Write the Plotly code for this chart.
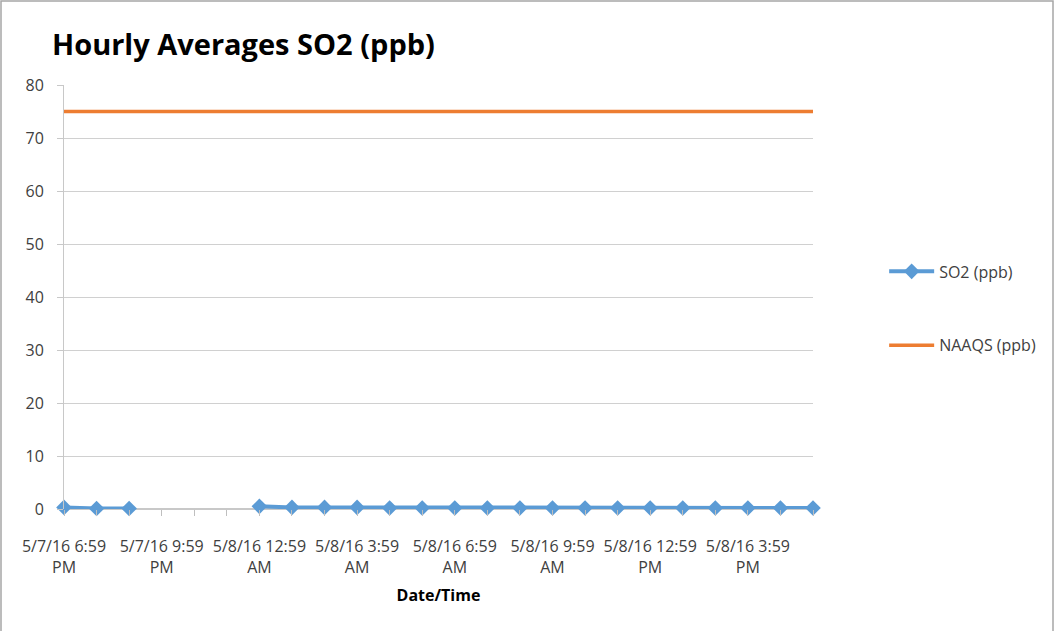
import plotly.graph_objects as go

categories = [
    "5/7/16 6:59 PM", "5/7/16 7:59 PM", "5/7/16 8:59 PM", "5/7/16 9:59 PM",
    "5/7/16 10:59 PM", "5/7/16 11:59 PM", "5/8/16 12:59 AM", "5/8/16 1:59 AM",
    "5/8/16 2:59 AM", "5/8/16 3:59 AM", "5/8/16 4:59 AM", "5/8/16 5:59 AM",
    "5/8/16 6:59 AM", "5/8/16 7:59 AM", "5/8/16 8:59 AM", "5/8/16 9:59 AM",
    "5/8/16 10:59 AM", "5/8/16 11:59 AM", "5/8/16 12:59 PM", "5/8/16 1:59 PM",
    "5/8/16 2:59 PM", "5/8/16 3:59 PM", "5/8/16 4:59 PM", "5/8/16 5:59 PM",
]
so2_ppb = [0.3, 0.1, 0.1, None, None, None, 0.5, 0.3, 0.3, 0.3, 0.2, 0.2,
           0.2, 0.2, 0.2, 0.2, 0.2, 0.2, 0.2, 0.2, 0.2, 0.2, 0.2, 0.2]
naaqs_ppb = [75] * len(categories)

tick_text = []
for i, c in enumerate(categories):
    if i % 3 == 0:
        parts = c.rsplit(" ", 1)
        tick_text.append(parts[0] + "<br>" + parts[1])
    else:
        tick_text.append("")

FONT = "Open Sans"
W, H = 1055, 631
ML, MR, MT, MB = 64, 242, 85, 122
PW, PH = W - ML - MR, H - MT - MB

fig = go.Figure()
fig.add_trace(go.Scatter(
    x=categories, y=so2_ppb, name="SO2 (ppb)", mode="lines+markers",
    line=dict(color="#5b9bd5", width=4),
    marker=dict(symbol="diamond", size=12, color="#5b9bd5"),
    connectgaps=False, legendgroup="a", cliponaxis=False,
))
fig.add_trace(go.Scatter(
    x=categories, y=naaqs_ppb, name="NAAQS (ppb)", mode="lines",
    line=dict(color="#ed7d31", width=3.5), legendgroup="b", cliponaxis=False,
))

fig.update_layout(
    width=W, height=H,
    margin=dict(l=ML, r=MR, t=MT, b=MB),
    paper_bgcolor="white", plot_bgcolor="white",
    font=dict(family=FONT, size=16, color="#404040"),
    title=dict(text="<b>Hourly Averages SO2 (ppb)</b>", x=52 / W, xanchor="left",
               y=1 - 45 / H, yanchor="middle",
               font=dict(family=FONT, size=29, color="black")),
    showlegend=True,
    legend=dict(x=1.095, xanchor="left", y=0.473, yanchor="middle",
                tracegroupgap=50, itemwidth=45,
                font=dict(family=FONT, size=16, color="#404040"),
                bgcolor="rgba(0,0,0,0)"),
    shapes=[dict(type="rect", xref="paper", yref="paper",
                 x0=-(ML - 1) / PW, x1=1 + (MR - 2) / PW,
                 y0=-(MB + 10) / PH, y1=1 + (MT - 1) / PH,
                 line=dict(color="#a6a6a6", width=1.5), layer="below")],
)
fig.update_xaxes(
    type="category", categoryorder="array", categoryarray=categories,
    range=[0, len(categories) - 1],
    tickmode="array", tickvals=categories, ticktext=tick_text, tickangle=0,
    ticks="outside", ticklen=6, tickcolor="#bfbfbf", ticklabelstandoff=17,
    showgrid=False, showline=False, zeroline=False,
    title=dict(text="<b>Date/Time</b>", font=dict(family=FONT, size=16, color="black"),
               standoff=12),
    tickfont=dict(size=16, color="#404040"),
)
fig.update_yaxes(
    range=[0, 80], dtick=10, tick0=0,
    showgrid=True, gridcolor="#d0d0d0", gridwidth=1,
    zeroline=True, zerolinecolor="#c8c8c8", zerolinewidth=1.5,
    showline=True, linecolor="#c8c8c8", linewidth=1,
    ticks="outside", ticklen=6, tickcolor="#c8c8c8", ticklabelstandoff=10,
    tickfont=dict(size=16, color="#404040"),
)

fig.write_html("out.html", config={"displayModeBar": False},
               post_script="document.body.style.margin='0';document.body.style.overflow='hidden';")
